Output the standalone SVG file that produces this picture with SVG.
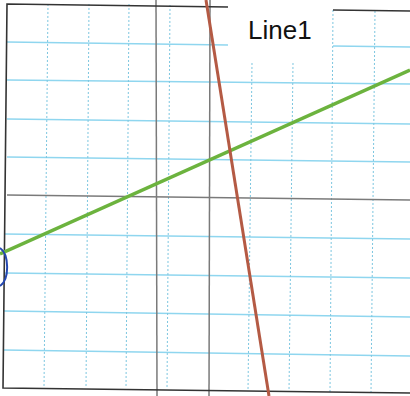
<svg xmlns="http://www.w3.org/2000/svg" width="410" height="396" viewBox="0 0 410 396">
  <style>
    .h { stroke: #8fd6ef; stroke-width: 1.5; fill: none; }
    .v { stroke: #7cc6e0; stroke-width: 1; stroke-dasharray: 2 2; fill: none; }
    .ax { stroke: #7a7a7a; stroke-width: 1.5; fill: none; }
    .bd { stroke: #333; stroke-width: 1.6; fill: none; }
  </style>
  <rect width="410" height="396" fill="#fff"/>
  <g id="grid">
    <line class="h" x1="7" y1="42" x2="228" y2="45"/>
    <line class="h" x1="333" y1="46" x2="410" y2="47"/>
    <line class="h" x1="7" y1="80" x2="410" y2="84"/>
    <line class="h" x1="7" y1="119" x2="410" y2="124"/>
    <line class="h" x1="7" y1="157" x2="410" y2="162"/>
    <line class="h" x1="4" y1="234" x2="410" y2="239"/>
    <line class="h" x1="4" y1="273" x2="410" y2="278"/>
    <line class="h" x1="4" y1="311" x2="410" y2="317"/>
    <line class="h" x1="4" y1="350" x2="410" y2="356"/>
    <line class="v" x1="48" y1="4" x2="44" y2="388"/>
    <line class="v" x1="89" y1="4" x2="86" y2="388"/>
    <line class="v" x1="129" y1="4" x2="126" y2="388"/>
    <line class="v" x1="170" y1="5" x2="167" y2="389"/>
    <line class="v" x1="252" y1="63" x2="248" y2="391"/>
    <line class="v" x1="293" y1="63" x2="289" y2="392"/>
    <line class="v" x1="333" y1="10" x2="330" y2="392"/>
    <line class="v" x1="375" y1="11" x2="371" y2="393"/>
  </g>
  <g id="axes">
    <line class="ax" x1="7" y1="195" x2="410" y2="200"/>
    <line class="ax" x1="156" y1="0" x2="157" y2="396"/>
    <line class="ax" x1="210" y1="0" x2="209" y2="396" stroke="#666"/>
  </g>
  <g id="border">
    <polyline class="bd" points="228,7 7,4 3,388 410,393"/>
    <line class="bd" x1="333" y1="10" x2="410" y2="11"/>
  </g>
  <g id="connectors">
    <line id="green-line" x1="0" y1="254" x2="410" y2="70" stroke="#6cb33e" stroke-width="3.5"/>
    <line id="red-line" x1="206" y1="0" x2="269" y2="396" stroke="#b45a44" stroke-width="3"/>
    <path id="blue-circle" d="M0,248 C9,254 10,279 0,286" fill="none" stroke="#2447b0" stroke-width="2"/>
  </g>
  <g id="label">
    <text x="248" y="39" font-family="Liberation Sans, Arial, sans-serif" font-size="26" fill="#111">Line1</text>
  </g>
</svg>
